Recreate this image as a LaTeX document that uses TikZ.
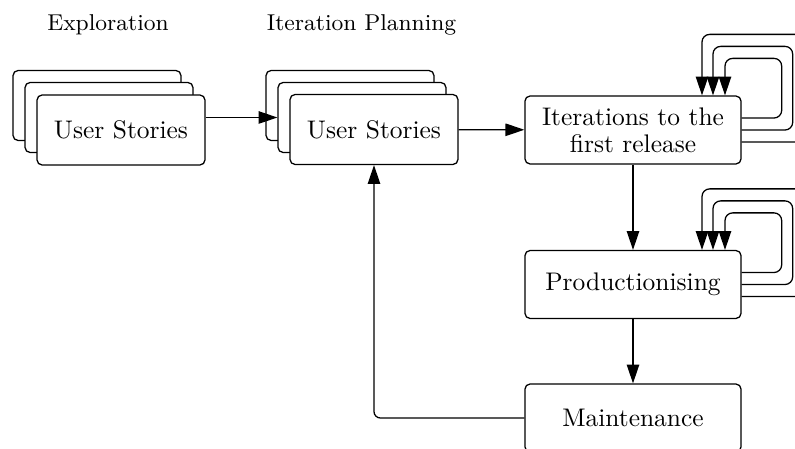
\documentclass[tikz,border=0pt]{standalone}
\usetikzlibrary{arrows.meta,calc}
\begin{document}
\begin{tikzpicture}[x=0.3929pt, y=-0.3929pt,
  base/.style={draw, line width=0.5pt, rounded corners=2pt, fill=white,
    inner sep=0pt, align=center, font=\fontsize{10}{10.6}\selectfont},
  card/.style={base, minimum width=66pt, minimum height=27.5pt},
  stage/.style={base, minimum width=84.9pt, minimum height=26.7pt},
  phase/.style={anchor=base, font=\fontsize{9}{11}\selectfont},
  arrow/.style={-{Triangle[length=7.4pt,width=4.9pt]}, line width=0.5pt},
]
\useasboundingbox (0,0) rectangle (795,449);
\clip (0,0) rectangle (795,449);

% phase headings
\node[phase] (h1) at (108,31) {Exploration};
\node[phase] (h2) at (361.5,31) {Iteration Planning};

% stacked story cards
\node[card] (b1) at (97,105.5) {};
\node[card] (m1) at (109,117.5) {};
\node[card] (f1) at (121,130) {User Stories};
\node[card] (b2) at (350,105.5) {};
\node[card] (m2) at (362,117.5) {};
\node[card] (f2) at (374,129.5) {User Stories};

% release stages
\node[stage] (it) at (633,130) {Iterations to the\\first release};
\node[stage] (pr) at (633,284.5) {Productionising};
\node[stage] (mt) at (633,418) {Maintenance};

% main flow
\draw[arrow] (m1.center -| f1.east) -- (m2.west);
\draw[arrow] (f2) -- (it);
\draw[arrow] (it) -- (pr);
\draw[arrow] (pr) -- (mt);
\draw[arrow, rounded corners=2.5pt] (mt.west) -| (f2.south);

% repeated iterations
\foreach \n in {it,pr} {
  \foreach \dy/\dx/\up/\ax in {-12/40/37/92, 0/51/49/80, 12/62/61/69} {
    \draw[arrow, rounded corners=3pt]
      ($(\n.east)+(0,\dy)$) -- ++(\dx,0) |- ($(\n.north)+(\ax,-\up)$)
      -- ($(\n.north)+(\ax,0)$);
  }
}
\end{tikzpicture}
\end{document}
